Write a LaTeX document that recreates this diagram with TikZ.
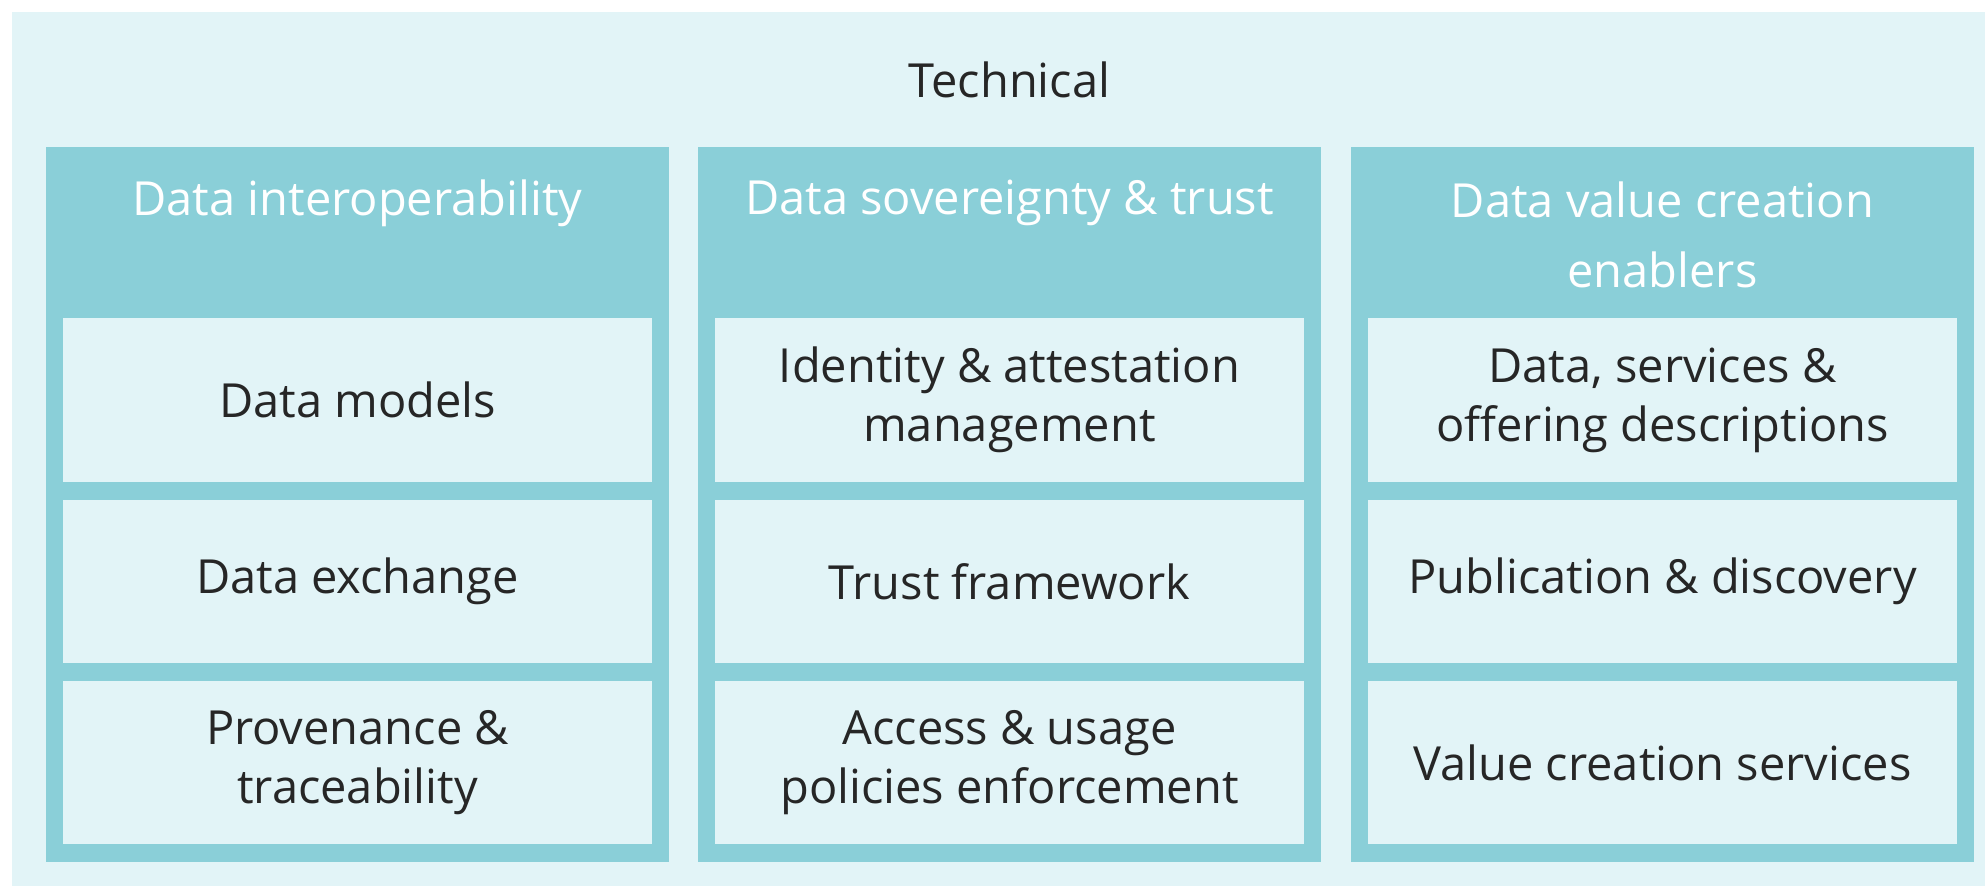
\documentclass[tikz,border=0pt]{standalone}
\usepackage{fontspec}
\setmainfont{Open Sans}
\usetikzlibrary{positioning}
\definecolor{bgteal}{HTML}{E2F4F7}
\definecolor{colteal}{HTML}{8ACFD8}
\definecolor{textgrey}{HTML}{262626}
\begin{document}
\begin{tikzpicture}
[x=0.5pt, y=-0.5pt,
  columndecorate/.style={shape=rectangle,fill=colteal,inner sep=0pt,%
    minimum width=311.5pt,minimum height=357.5pt,anchor=north west},
  headdecorate/.style={align=center,text=white,inner sep=0pt,%
    font=\fontsize{23.5}{35}\selectfont},
  celldecorate/.style={shape=rectangle,fill=bgteal,inner sep=0pt,%
    minimum width=294.5pt,minimum height=81.75pt,align=center,%
    text=textgrey,font=\fontsize{23.5}{29.5}\selectfont}]
\useasboundingbox (0,0) rectangle (1985,888);
\fill[bgteal] (12,12) rectangle (1985,886);
%% title
\node (technical) at (1009.5,80) [text=textgrey,font=\fontsize{23.5}{29}\selectfont] {Technical};
%% columns
\foreach \nodename/\x in {interop/46, sovereign/698, valuecreation/1351}
{
  \node (\nodename) at (\x,147) [columndecorate] {};
}
%% column headers
\foreach \nodename/\x/\y/\label in {interophead/357.5/203/{Data interoperability},
  sovereignhead/1009.5/203/{Data sovereignty \& trust},
  valuehead/1662.5/235/{Data value creation\\enablers}}
{
  \node (\nodename) at (\x,\y) [headdecorate] {\label};
}
%% cells
\foreach \nodename/\x/\y/\label in {models/357.5/400/{Data models},
  exchange/357.5/581.5/{Data exchange},
  provenance/357.5/762.5/{Provenance \&\\traceability},
  identity/1009.5/400/{Identity \& attestation\\management},
  trustfw/1009.5/581.5/{Trust framework},
  access/1009.5/762.5/{Access \& usage\\policies enforcement},
  offering/1662.5/400/{Data, services \&\\offering descriptions},
  publication/1662.5/581.5/{Publication \& discovery},
  services/1662.5/762.5/{Value creation services}}
{
  \node (\nodename) at (\x,\y) [celldecorate] {\label};
}
\end{tikzpicture}
\end{document}
